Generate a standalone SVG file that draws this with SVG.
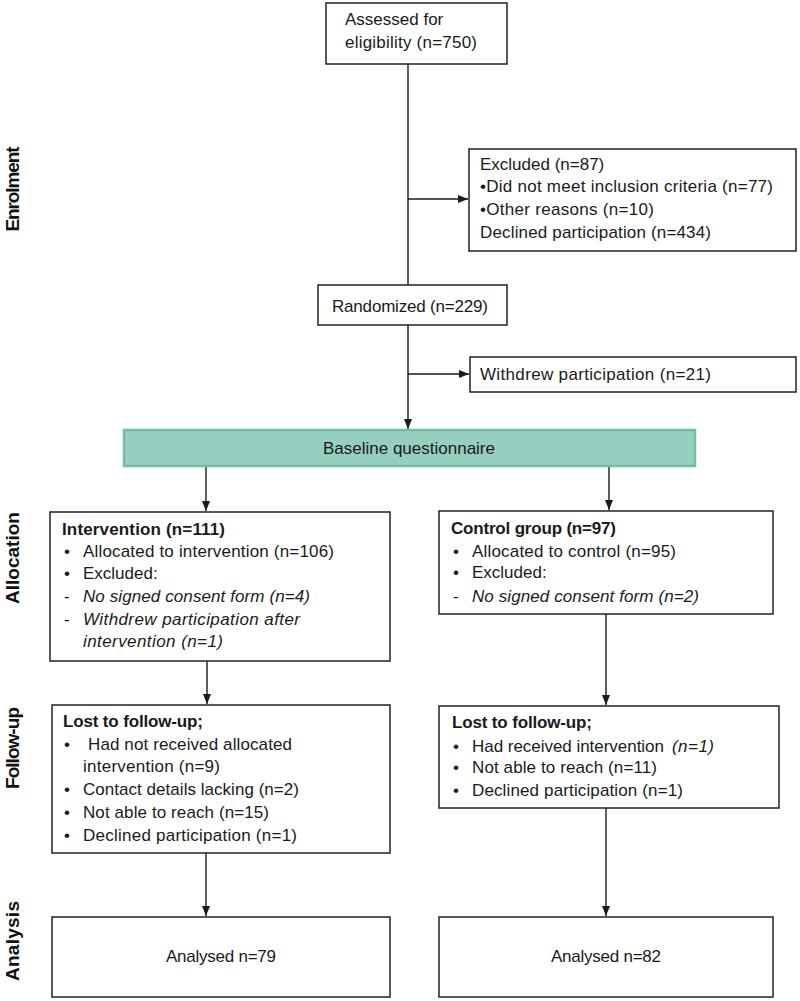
<svg xmlns="http://www.w3.org/2000/svg" width="800" height="1001" viewBox="0 0 800 1001">
<defs>
<marker id="ah" markerUnits="userSpaceOnUse" markerWidth="10" markerHeight="10" viewBox="0 0 10 10" refX="10" refY="5" orient="auto">
<path d="M0,1 L10,5 L0,9 z" fill="#1a1a1a"/>
</marker>
<style>
.box{fill:#fff;stroke:#222;stroke-width:1.5}
.base{fill:#95cfc0;stroke:#72bca8;stroke-width:2.5}
.t{font-family:"Liberation Sans",Arial,sans-serif;font-size:17px;fill:#1a1a1a}
.b{font-weight:bold}
.i{font-style:italic}
.side{font-family:"Liberation Sans",Arial,sans-serif;font-size:19px;font-weight:bold;fill:#111}
.c{stroke:#1a1a1a;stroke-width:1.4;fill:none}
</style>
</defs>
<rect width="800" height="1001" fill="#fff"/>

<g id="labels">
<text class="side" text-anchor="middle" textLength="85" transform="translate(19,189) rotate(-90)">Enrolment</text>
<text class="side" text-anchor="middle" transform="translate(19,558) rotate(-90)">Allocation</text>
<text class="side" text-anchor="middle" textLength="82" transform="translate(19,748) rotate(-90)">Follow-up</text>
<text class="side" text-anchor="middle" textLength="80" transform="translate(19,941) rotate(-90)">Analysis</text>
</g>

<g id="connectors">
<path class="c" d="M408,64 V285"/>
<path class="c" d="M408,325 V429" marker-end="url(#ah)"/>
<path class="c" d="M408,199 H468" marker-end="url(#ah)"/>
<path class="c" d="M408,374 H469" marker-end="url(#ah)"/>
<path class="c" d="M206,466 V511" marker-end="url(#ah)"/>
<path class="c" d="M609,466 V510" marker-end="url(#ah)"/>
<path class="c" d="M207,661 V704" marker-end="url(#ah)"/>
<path class="c" d="M606,614 V705" marker-end="url(#ah)"/>
<path class="c" d="M206,853 V916" marker-end="url(#ah)"/>
<path class="c" d="M606,808 V916" marker-end="url(#ah)"/>
</g>

<g id="assessed">
<rect class="box" x="326" y="3" width="181" height="61"/>
<text class="t" x="345" y="25">Assessed for</text>
<text class="t" x="345" y="48" textLength="132">eligibility (n=750)</text>
</g>

<g id="excluded">
<rect class="box" x="469" y="149" width="327" height="102"/>
<text class="t" x="480" y="170">Excluded (n=87)</text>
<text class="t" x="480" y="192" textLength="293">•Did not meet inclusion criteria (n=77)</text>
<text class="t" x="480" y="215" textLength="174">•Other  reasons (n=10)</text>
<text class="t" x="480" y="238" textLength="231">Declined participation (n=434)</text>
</g>

<g id="randomized">
<rect class="box" x="318" y="285" width="189" height="40"/>
<text class="t" x="332" y="312" textLength="156">Randomized (n=229)</text>
</g>

<g id="withdrew">
<rect class="box" x="470" y="357" width="326" height="35"/>
<text class="t" x="480" y="380" textLength="231">Withdrew participation (n=21)</text>
</g>

<g id="baseline">
<rect class="base" x="124" y="430" width="571" height="36"/>
<text class="t" x="409" y="454" text-anchor="middle" textLength="172">Baseline questionnaire</text>
</g>

<g id="intervention">
<rect class="box" x="50" y="512" width="340" height="149"/>
<text class="t b" x="62" y="535" textLength="163">Intervention (n=111)</text>
<text class="t" x="64" y="557">•</text>
<text class="t" x="83" y="557" textLength="251">Allocated to intervention (n=106)</text>
<text class="t" x="64" y="579">•</text>
<text class="t" x="83" y="579">Excluded:</text>
<text class="t" x="64" y="602">-</text>
<text class="t i" x="83" y="602" textLength="227">No signed consent  form (n=4)</text>
<text class="t" x="64" y="625">-</text>
<text class="t i" x="83" y="625" textLength="217">Withdrew participation after</text>
<text class="t i" x="83" y="647" textLength="140">intervention  (n=1)</text>
</g>

<g id="control">
<rect class="box" x="439" y="511" width="334" height="103"/>
<text class="t b" x="451" y="534" textLength="165">Control group (n=97)</text>
<text class="t" x="453" y="557">•</text>
<text class="t" x="472" y="557" textLength="204">Allocated to control (n=95)</text>
<text class="t" x="453" y="578">•</text>
<text class="t" x="472" y="578">Excluded:</text>
<text class="t" x="453" y="602">-</text>
<text class="t i" x="472" y="602" textLength="227">No signed consent  form (n=2)</text>
</g>

<g id="lost-intervention">
<rect class="box" x="52" y="705" width="338" height="148"/>
<text class="t b" x="63" y="727" textLength="140">Lost to follow-up;</text>
<text class="t" x="64" y="750">•</text>
<text class="t" x="88" y="750" textLength="204">Had not received allocated</text>
<text class="t" x="83" y="772" textLength="137">intervention (n=9)</text>
<text class="t" x="64" y="795">•</text>
<text class="t" x="83" y="795" textLength="216">Contact details lacking (n=2)</text>
<text class="t" x="64" y="818">•</text>
<text class="t" x="83" y="818" textLength="186">Not able to reach (n=15)</text>
<text class="t" x="64" y="841">•</text>
<text class="t" x="83" y="841" textLength="214">Declined participation (n=1)</text>
</g>

<g id="lost-control">
<rect class="box" x="439" y="706" width="340" height="102"/>
<text class="t b" x="452" y="728" textLength="140">Lost to follow-up;</text>
<text class="t" x="453" y="752">•</text>
<text class="t" x="472" y="752" textLength="192">Had received intervention</text>
<text class="t i" x="672" y="752" textLength="42">(n=1)</text>
<text class="t" x="453" y="773">•</text>
<text class="t" x="472" y="773" textLength="185">Not able to reach (n=11)</text>
<text class="t" x="453" y="796">•</text>
<text class="t" x="472" y="796" textLength="211">Declined participation (n=1)</text>
</g>

<g id="analysed-intervention">
<rect class="box" x="52" y="917" width="338" height="80"/>
<text class="t" x="221" y="962" text-anchor="middle" textLength="110">Analysed n=79</text>
</g>

<g id="analysed-control">
<rect class="box" x="439" y="917" width="334" height="80"/>
<text class="t" x="606" y="962" text-anchor="middle" textLength="110">Analysed n=82</text>
</g>
</svg>
